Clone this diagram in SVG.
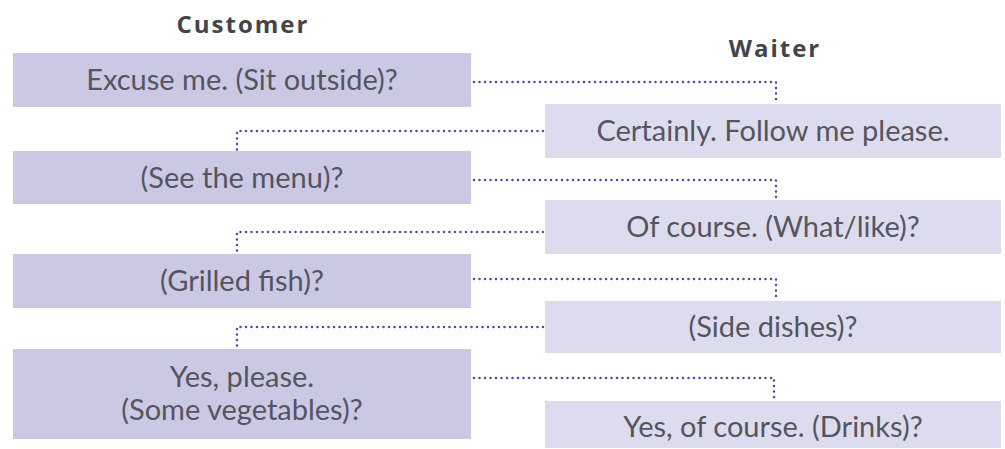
<svg xmlns="http://www.w3.org/2000/svg" width="1005" height="449" viewBox="0 0 1005 449">
<style>
.cust{fill:#cbc8e4}
.wait{fill:#dddcee}
.t{font-family:Lato,"Liberation Sans",sans-serif;font-size:29px;fill:#55555f;text-anchor:middle}
.h{font-family:"Open Sans","Liberation Sans",sans-serif;font-size:24px;font-weight:bold;fill:#444448;text-anchor:middle;letter-spacing:2px}
.c{fill:none;stroke:#534d9e;stroke-width:2.6;stroke-linecap:round;stroke-dasharray:0 5.5}
</style>
<rect width="1005" height="449" fill="#ffffff"/>
<g id="headings">
<text class="h" x="243" y="33">Customer</text>
<text class="h" x="775" y="57">Waiter</text>
</g>
<g id="connectors">
<path class="c" d="M474 82H776V102"/>
<path class="c" d="M543 131H237V150"/>
<path class="c" d="M474 180H776V200"/>
<path class="c" d="M543 232H237V253"/>
<path class="c" d="M474 279H776V300"/>
<path class="c" d="M543 327H237V348"/>
<path class="c" d="M474 378H774V400"/>
</g>
<g id="c1"><rect class="cust" x="13" y="53" width="458" height="54"/><text class="t" x="242" y="90">Excuse me. (Sit outside)?</text></g>
<g id="w1"><rect class="wait" x="545" y="104" width="456" height="54"/><text class="t" x="773" y="141">Certainly. Follow me please.</text></g>
<g id="c2"><rect class="cust" x="13" y="151" width="458" height="53"/><text class="t" x="242" y="188">(See the menu)?</text></g>
<g id="w2"><rect class="wait" x="545" y="200" width="456" height="54"/><text class="t" x="773" y="237">Of course. (What/like)?</text></g>
<g id="c3"><rect class="cust" x="13" y="254" width="458" height="54"/><text class="t" x="242" y="291">(Grilled fish)?</text></g>
<g id="w3"><rect class="wait" x="545" y="301" width="456" height="52"/><text class="t" x="773" y="337">(Side dishes)?</text></g>
<g id="c4"><rect class="cust" x="13" y="349" width="458" height="90"/><text class="t" x="242" y="387">Yes, please.</text><text class="t" x="242" y="420">(Some vegetables)?</text></g>
<g id="w4"><rect class="wait" x="545" y="401" width="456" height="47"/><text class="t" x="773" y="437">Yes, of course. (Drinks)?</text></g>
</svg>
